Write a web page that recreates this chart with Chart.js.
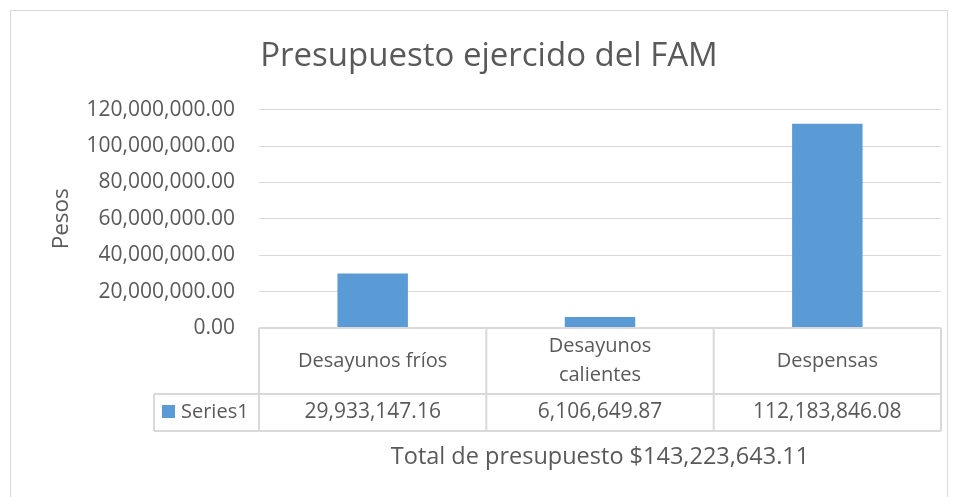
<!DOCTYPE html>
<html>
  <head>
    <meta charset="utf-8">
    <script src="https://cdn.jsdelivr.net/npm/chart.js@4.4.0/dist/chart.umd.min.js"></script>
    <style>
      body {
        margin: 0;
        background: #ffffff;
        overflow: hidden;
      }
      /* outer frame of the chart */
      .chart-frame {
        position: absolute;
        left: 10px;
        top: 10px;
        width: 936px;
        height: 500px;
        border: 1px solid #d9d9d9;
      }
      .chart-container {
        position: relative;
        width: 936px;
        height: 486px;
      }
    </style>
  </head>
  <body>
    <div class="chart-frame">
      <div class="chart-container">
        <canvas id="myChart"></canvas>
      </div>
    </div>
    <script>
      // chart data
      var chartTitle = "Presupuesto ejercido del FAM";
      var categories = ["Desayunos fríos", ["Desayunos", "calientes"], "Despensas"];
      var seriesName = "Series1";
      var seriesValues = [29933147.16, 6106649.87, 112183846.08];
      var yAxisTitle = "Pesos";
      var xAxisTitle = "Total de presupuesto $143,223,643.11";
      var yMin = 0;
      var yMax = 120000000;
      var yStep = 20000000;

      var textColor = "#595959";
      var lineColor = "#d9d9d9";
      var barColor = "#5b9bd5";
      var fontFamily = "'Open Sans', sans-serif";

      function money(v) {
        return v.toLocaleString("en-US", { minimumFractionDigits: 2, maximumFractionDigits: 2 });
      }

      // draws the data table under the plot area
      var dataTable = {
        id: "dataTable",
        afterDraw: function (chart) {
          var ctx = chart.ctx;
          var area = chart.chartArea;
          var x = chart.scales.x;
          var top = area.bottom;
          var mid = top + 66;
          var bot = mid + 37;
          var legendLeft = area.left - 105;
          var half = (x.getPixelForValue(1) - x.getPixelForValue(0)) / 2;

          ctx.save();
          ctx.strokeStyle = lineColor;
          ctx.lineWidth = 2;
          ctx.beginPath();
          ctx.moveTo(area.left, top);
          ctx.lineTo(area.right, top);
          ctx.moveTo(legendLeft, mid);
          ctx.lineTo(area.right, mid);
          ctx.moveTo(legendLeft, bot);
          ctx.lineTo(area.right, bot);
          ctx.moveTo(legendLeft, mid);
          ctx.lineTo(legendLeft, bot);
          ctx.moveTo(area.left, top);
          ctx.lineTo(area.left, bot);
          categories.forEach(function (c, i) {
            var r = x.getPixelForValue(i) + half;
            ctx.moveTo(r, top);
            ctx.lineTo(r, bot);
          });
          ctx.stroke();

          ctx.fillStyle = textColor;
          ctx.textAlign = "center";
          ctx.textBaseline = "middle";
          categories.forEach(function (c, i) {
            var cx = x.getPixelForValue(i);
            var lines = Array.isArray(c) ? c : [c];
            var y0 = top + 33 - ((lines.length - 1) * 29) / 2;
            ctx.font = "20px " + fontFamily;
            lines.forEach(function (l, j) {
              ctx.fillText(l, cx, y0 + j * 29);
            });
            ctx.font = "21px " + fontFamily;
            ctx.fillText(money(seriesValues[i]), cx, mid + 18.5);
          });

          // legend key
          ctx.fillStyle = barColor;
          ctx.fillRect(area.left - 97, mid + 11, 13, 13);
          ctx.fillStyle = textColor;
          ctx.textAlign = "left";
          ctx.font = "20px " + fontFamily;
          ctx.fillText(seriesName, area.left - 78, mid + 18.5);
          ctx.restore();
        },
      };

      var ctx = document.getElementById("myChart").getContext("2d");
      var chart = new Chart(ctx, {
        type: "bar",
        data: {
          labels: categories,
          datasets: [
            {
              label: seriesName,
              data: seriesValues,
              backgroundColor: barColor,
              barPercentage: 0.31,
              categoryPercentage: 1,
            },
          ],
        },
        options: {
          responsive: true,
          maintainAspectRatio: false,
          animation: false,
          layout: {
            padding: { left: 26, right: 6, top: 0, bottom: 0 },
          },
          plugins: {
            legend: { display: false },
            tooltip: { enabled: false },
            title: {
              display: true,
              text: chartTitle,
              color: textColor,
              font: { family: fontFamily, size: 33, weight: "normal" },
              padding: { top: 26, bottom: 33 },
            },
          },
          scales: {
            x: {
              grid: { display: false },
              border: { display: false },
              ticks: { display: false },
              title: {
                display: true,
                text: xAxisTitle,
                color: textColor,
                font: { family: fontFamily, size: 23.5 },
                padding: { top: 0, bottom: 26 },
              },
              afterFit: function (scale) {
                scale.height = 169;
              },
            },
            y: {
              min: yMin,
              max: yMax,
              border: { display: false },
              grid: { color: lineColor, drawTicks: false },
              ticks: {
                stepSize: yStep,
                padding: 24,
                color: textColor,
                font: { family: fontFamily, size: 21 },
                callback: function (v) {
                  return money(v);
                },
              },
              title: {
                display: true,
                text: yAxisTitle,
                color: textColor,
                font: { family: fontFamily, size: 22.5 },
                padding: { top: 11, bottom: 0 },
              },
              afterFit: function (scale) {
                scale.width = 222;
              },
            },
          },
        },
        plugins: [dataTable],
      });
    </script>
  </body>
</html>
